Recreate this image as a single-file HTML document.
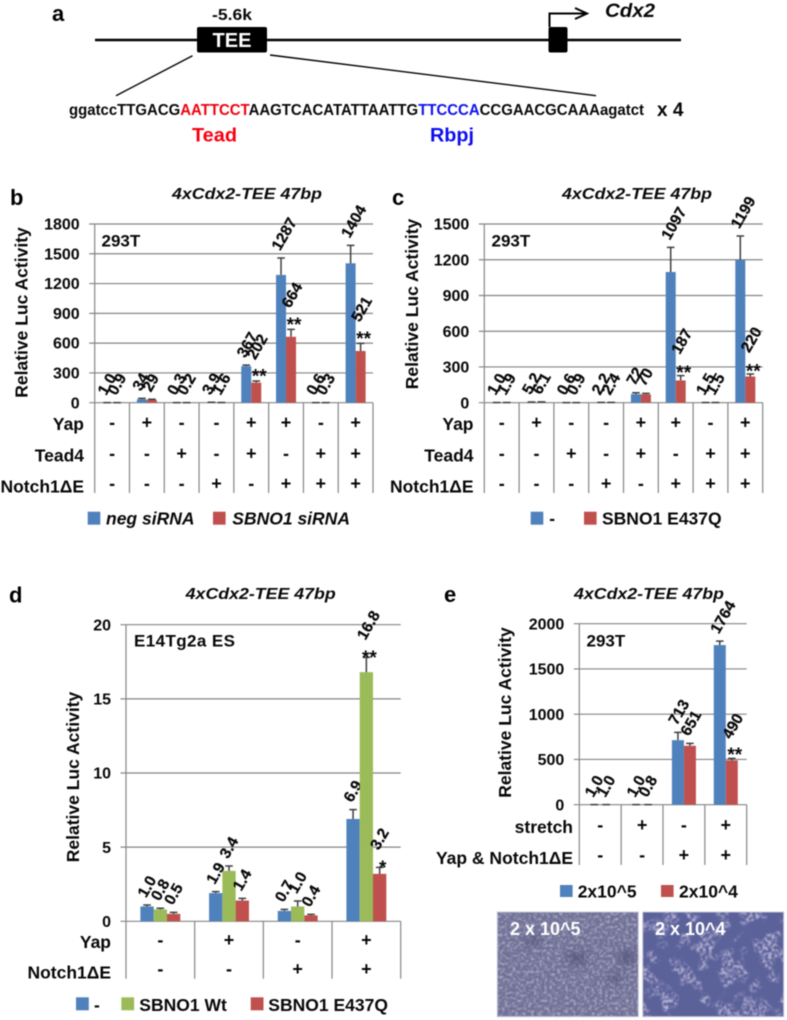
<!DOCTYPE html>
<html>
<head>
<meta charset="utf-8">
<title>Cdx2 TEE luciferase reporter figure</title>
<style>
html,body{margin:0;padding:0;background:#fff;}
body{width:787px;height:1020px;overflow:hidden;}
svg{display:block;filter:blur(0.4px);}
text{font-family:"Liberation Sans",sans-serif;font-weight:bold;fill:#080808;}
.it{font-style:italic;}
.lab{font-size:17.5px;}
.tl{font-size:16px;}
.panel{font-size:22px;fill:#000;}
</style>
</head>
<body>
<svg id="fig" width="787" height="1020" viewBox="0 0 787 1020" xmlns="http://www.w3.org/2000/svg">
<defs>
<filter id="speckDense" x="0" y="0" width="1" height="1" color-interpolation-filters="sRGB">
  <feTurbulence type="fractalNoise" baseFrequency="0.38" numOctaves="2" seed="5"/>
  <feColorMatrix type="matrix" values="0 0 0 0 0.82  0 0 0 0 0.78  0 0 0 0 0.84  3 0 0 0 -1.35"/>
  <feGaussianBlur stdDeviation="0.5"/>
</filter>
<filter id="speckPatch" x="0" y="0" width="1" height="1" color-interpolation-filters="sRGB">
  <feTurbulence type="fractalNoise" baseFrequency="0.32" numOctaves="2" seed="9" result="fine"/>
  <feColorMatrix in="fine" type="matrix" values="0 0 0 0 0.86  0 0 0 0 0.82  0 0 0 0 0.92  3.2 0 0 0 -1.3" result="speck"/>
  <feTurbulence type="fractalNoise" baseFrequency="0.05" numOctaves="2" seed="21"/>
  <feColorMatrix type="matrix" values="0 0 0 0 1  0 0 0 0 1  0 0 0 0 1  9 0 0 0 -4.3" result="mask"/>
  <feComposite in="speck" in2="mask" operator="in"/>
  <feGaussianBlur stdDeviation="0.65"/>
</filter>
<filter id="softSpot" x="-50%" y="-50%" width="200%" height="200%"><feGaussianBlur stdDeviation="4"/></filter>
</defs>

<!-- Panel a -->
<g id="panel-a">
  <text class="panel" x="52" y="21">a</text>
  <line x1="95" y1="40" x2="681" y2="40" stroke="#000" stroke-width="2.6"/>
  <rect x="197" y="27" width="70" height="25.5" rx="2" fill="#000"/>
  <text x="232" y="47" text-anchor="middle" font-size="20" style="fill:#fff">TEE</text>
  <text x="212" y="20" font-size="16" textLength="40" lengthAdjust="spacingAndGlyphs">-5.6k</text>
  <rect x="548.5" y="27" width="19" height="25.5" rx="2" fill="#000"/>
  <path d="M549.5 27V13.5H587M575 8L587 13.5L575 19" fill="none" stroke="#000" stroke-width="2"/>
  <text class="it" x="605" y="17" font-size="19" textLength="50" lengthAdjust="spacingAndGlyphs">Cdx2</text>
  <line x1="192.5" y1="55.7" x2="116" y2="95.7" stroke="#000" stroke-width="1.4"/>
  <line x1="270" y1="55" x2="596" y2="95.7" stroke="#000" stroke-width="1.4"/>
  <text x="69" y="115" font-size="15.5" textLength="575" lengthAdjust="spacingAndGlyphs">ggatccTTGACG<tspan style="fill:#f00010">AATTCCT</tspan>AAGTCACATATTAATTG<tspan style="fill:#1010f0">TTCCCA</tspan>CCGAACGCAAAagatct</text>
  <text x="657" y="116" font-size="19">x 4</text>
  <text x="192" y="141.5" font-size="19" textLength="45" lengthAdjust="spacingAndGlyphs" style="fill:#f80010">Tead</text>
  <text x="430" y="141.5" font-size="19" textLength="44" lengthAdjust="spacingAndGlyphs" style="fill:#0c0cf0">Rbpj</text>
</g>

<!-- Panel b static -->
<g id="panel-b">
  <text class="panel" x="10" y="205">b</text>
  <text class="it" x="172" y="199" font-size="16" textLength="150" lengthAdjust="spacingAndGlyphs">4xCdx2-TEE 47bp</text>
  <text x="101.5" y="246.5" font-size="17">293T</text>
  <text class="lab" transform="translate(27.5 312.5) rotate(-90)" text-anchor="middle">Relative Luc Activity</text>
  <rect x="87.7" y="511.7" width="12.6" height="13" fill="#4f81bd"/>
  <text class="it lab" x="106" y="524.5">neg siRNA</text>
  <rect x="213" y="511.7" width="12.6" height="13" fill="#c0504d"/>
  <text class="it lab" x="232.3" y="524.5">SBNO1 siRNA</text>
</g>

<!-- Panel c static -->
<g id="panel-c">
  <text class="panel" x="392" y="205">c</text>
  <text class="it" x="562" y="199" font-size="16" textLength="150" lengthAdjust="spacingAndGlyphs">4xCdx2-TEE 47bp</text>
  <text x="491.5" y="246.5" font-size="17">293T</text>
  <text class="lab" transform="translate(418 304) rotate(-90)" text-anchor="middle">Relative Luc Activity</text>
  <rect x="530.7" y="511.7" width="12.6" height="13" fill="#4f81bd"/>
  <text class="lab" x="549.3" y="524.5">-</text>
  <rect x="584" y="511.7" width="12.6" height="13" fill="#c0504d"/>
  <text class="lab" x="602" y="524.5">SBNO1 E437Q</text>
</g>

<!-- Panel d static -->
<g id="panel-d">
  <text class="panel" x="9" y="602.5">d</text>
  <text class="it" x="185.7" y="599" font-size="16" textLength="150" lengthAdjust="spacingAndGlyphs">4xCdx2-TEE 47bp</text>
  <text x="134" y="646.5" font-size="17" textLength="101">E14Tg2a ES</text>
  <text class="lab" transform="translate(79 777) rotate(-90)" text-anchor="middle">Relative Luc Activity</text>
  <rect x="76" y="997.3" width="12.8" height="13" fill="#4f81bd"/>
  <text class="lab" x="94" y="1011">-</text>
  <rect x="121.3" y="997.3" width="12.8" height="13" fill="#9bbb59"/>
  <text class="lab" x="139.3" y="1011">SBNO1 Wt</text>
  <rect x="250.7" y="997.3" width="12.8" height="13" fill="#c0504d"/>
  <text class="lab" x="268.3" y="1011">SBNO1 E437Q</text>
</g>

<!-- Panel e static -->
<g id="panel-e">
  <text class="panel" x="444" y="602">e</text>
  <text class="it" x="574" y="599" font-size="16" textLength="150" lengthAdjust="spacingAndGlyphs">4xCdx2-TEE 47bp</text>
  <text x="586.5" y="646.5" font-size="17">293T</text>
  <text class="lab" transform="translate(511 712.5) rotate(-90)" text-anchor="middle">Relative Luc Activity</text>
  <rect x="560" y="885" width="12.6" height="12" fill="#4f81bd"/>
  <text class="lab" x="577.7" y="897.5">2x10^5</text>
  <rect x="661" y="885" width="12.6" height="12" fill="#c0504d"/>
  <text class="lab" x="679" y="897.5">2x10^4</text>
</g>

<!-- Micrographs -->
<g>
  <rect x="497.3" y="912" width="141" height="104.7" fill="#6d6f96"/>
  <rect x="497.3" y="912" width="141" height="104.7" filter="url(#speckDense)" opacity="0.75"/>
  <ellipse cx="577" cy="958" rx="11" ry="7" fill="#45456e" opacity="0.5" filter="url(#softSpot)"/>
  <ellipse cx="627" cy="957" rx="9" ry="8" fill="#45456e" opacity="0.5" filter="url(#softSpot)"/>
  <ellipse cx="533" cy="940" rx="8" ry="6" fill="#45456e" opacity="0.45" filter="url(#softSpot)"/>
  <ellipse cx="615" cy="978" rx="7" ry="6" fill="#45456e" opacity="0.45" filter="url(#softSpot)"/>
  <rect x="497.3" y="912" width="141" height="104.7" fill="none" stroke="#c9c9dc" stroke-width="1"/>
  <text x="510" y="935" font-size="18" style="fill:#fff">2 x 10^5</text>
</g>
<g>
  <rect x="642.7" y="912" width="141" height="104.7" fill="#5b629a"/>
  <rect x="642.7" y="912" width="141" height="104.7" filter="url(#speckPatch)" opacity="0.8"/>
  <rect x="642.7" y="912" width="141" height="104.7" fill="none" stroke="#c9c9dc" stroke-width="1"/>
  <text x="655" y="935" font-size="18" style="fill:#fff">2 x 10^4</text>
</g>

<script>
// Panel b data
const bYTicks = [0, 300, 600, 900, 1200, 1500, 1800];
const bNegSiRNA = [1.0, 34, 0.3, 3.9, 367, 1287, 0.6, 1404];
const bNegSiRNAErr = [0.2, 10, 0.1, 1, 12, 170, 0.1, 181];
const bSbno1SiRNA = [0.9, 29, 0.2, 1.6, 202, 664, 0.3, 521];
const bSbno1SiRNAErr = [0.2, 6, 0.1, 0.5, 16, 75, 0.1, 77];
const bSbno1Stars = ['', '', '', '', '**', '**', '', '**'];
const bYap = ['-', '+', '-', '-', '+', '+', '-', '+'];
const bTead4 = ['-', '-', '+', '-', '+', '-', '+', '+'];
const bNotch = ['-', '-', '-', '+', '-', '+', '+', '+'];

// Panel c data
const cYTicks = [0, 300, 600, 900, 1200, 1500];
const cControl = [1.0, 5.2, 0.6, 2.2, 72, 1097, 1.5, 1199];
const cControlErr = [0.3, 1, 0.2, 0.5, 12, 207, 0.3, 200];
const cE437Q = [1.9, 6.1, 0.9, 2.4, 70, 187, 1.5, 220];
const cE437QErr = [0.3, 1, 0.2, 0.5, 8, 40, 0.3, 21];
const cE437QStars = ['', '', '', '', '', '**', '', '**'];
const cYap = ['-', '+', '-', '-', '+', '+', '-', '+'];
const cTead4 = ['-', '-', '+', '-', '+', '-', '+', '+'];
const cNotch = ['-', '-', '-', '+', '-', '+', '+', '+'];

// Panel d data
const dYTicks = [0, 5, 10, 15, 20];
const dControl = [1.0, 1.9, 0.7, 6.9];
const dControlErr = [0.1, 0.1, 0.1, 0.63];
const dWt = [0.8, 3.4, 1.0, 16.8];
const dWtErr = [0.08, 0.33, 0.37, 1.0];
const dWtStars = ['', '', '', '**'];
const dE437Q = [0.5, 1.4, 0.4, 3.2];
const dE437QErr = [0.1, 0.15, 0.07, 0.44];
const dE437QStars = ['', '', '', '*'];
const dYap = ['-', '+', '-', '+'];
const dNotch = ['-', '-', '+', '+'];

// Panel e data
const eYTicks = [0, 500, 1000, 1500, 2000];
const eHigh = [1.0, 1.0, 713, 1764];
const eHighErr = [0, 0, 86, 44];
const eLow = [1.0, 0.8, 651, 490];
const eLowErr = [0, 0, 27, 22];
const eLowStars = ['', '', '', '**'];
const eStretch = ['-', '+', '-', '+'];
const eYapNotch = ['-', '-', '+', '+'];

const SVG_NS = 'http://www.w3.org/2000/svg';
function mk(tag, attrs, parent, txt) {
  const el = document.createElementNS(SVG_NS, tag);
  for (const k in attrs) el.setAttribute(k, attrs[k]);
  if (txt !== undefined) el.textContent = txt;
  parent.appendChild(el);
  return el;
}
const GRID = '#858585';

function drawChart(parentId, o) {
  const parent = document.getElementById(parentId);
  const max = o.ticks[o.ticks.length - 1];
  const yOf = v => o.bottom - (v / max) * (o.bottom - o.top);
  const n = o.series[0].values.length;
  const groupW = (o.right - o.left) / n;
  const xOf = i => o.left + (i + 0.5) * groupW;

  o.ticks.forEach(t => {
    const y = yOf(t);
    const grid = mk('line', {x1: o.left - 5.5, x2: o.right, y1: y, y2: y, stroke: GRID, 'stroke-width': 1.2}, parent);
    
    
    const lbl = mk('text', {x: o.left - 15, y: y + 5.6, 'text-anchor': 'end', class: 'tl'}, parent, String(t));
    
    
  });

  for (let i = 0; i <= n; i++) {
    const x = o.left + i * groupW;
    const sep = mk('line', {x1: x, x2: x, y1: i === 0 ? o.top : o.bottom, y2: o.sepBottom, stroke: GRID, 'stroke-width': 1.2}, parent);
    
    
  }

  o.series.forEach((s, j) => {
    s.values.forEach((v, i) => {
      const cx = xOf(i) + (j - o.series.length / 2 + 0.5) * o.barW;
      const top = yOf(v);
      const bar = mk('rect', {x: cx - o.barW / 2, y: top, width: o.barW, height: o.bottom - top, fill: s.color}, parent);
      
      

      const errTop = yOf(v + s.errors[i]);
      const err = mk('path', {d: `M${cx} ${top}V${errTop}M${cx - 3.8} ${errTop}H${cx + 3.8}`, fill: 'none', stroke: '#3f3f3f', 'stroke-width': 1.5}, parent);
      
      

      const star = s.stars ? s.stars[i] : '';
      if (star) {
        const st = mk('text', {x: cx + 3, y: errTop - o.starRaise + 10.5, 'text-anchor': 'middle', 'font-size': 19}, parent, star);
        
        
      }
      const ax = cx - 1;
      const ay = errTop - 6.5 - (star ? o.starGap : 0);
      const text = o.format(v);
      const val = mk('text', {x: ax, y: ay, 'font-size': 15.5, stroke: '#080808', 'stroke-width': 0.25, transform: `rotate(-60 ${ax} ${ay})`}, parent, text);
      
      
    });
  });

  o.rows.forEach(r => {
    const rl = mk('text', {x: o.rowRight, y: r.labelY, 'text-anchor': 'end', class: 'lab'}, parent, r.label);
    
    
    r.states.forEach((st, i) => {
      const m = mk('text', {x: xOf(i), y: r.markY, 'text-anchor': 'middle', 'font-size': 18}, parent, st);
      
      
    });
  });
}

const fmtMixed = v => (v < 10 ? v.toFixed(1) : v.toFixed(0));
const fmtOne = v => v.toFixed(1);

drawChart('panel-b', {
  left: 94.7, right: 373, top: 224, bottom: 402.7, sepBottom: 493, barW: 10, rowRight: 84, starGap: 14, starRaise: 9,
  ticks: bYTicks, format: fmtMixed,
  series: [
    {values: bNegSiRNA, errors: bNegSiRNAErr, color: '#4f81bd'},
    {values: bSbno1SiRNA, errors: bSbno1SiRNAErr, stars: bSbno1Stars, color: '#c0504d'}
  ],
  rows: [
    {label: 'Yap', states: bYap, labelY: 430, markY: 428.5},
    {label: 'Tead4', states: bTead4, labelY: 461.5, markY: 459.5},
    {label: 'Notch1\u0394E', states: bNotch, labelY: 492.5, markY: 489.5}
  ]
});

drawChart('panel-c', {
  left: 484.3, right: 762.7, top: 224, bottom: 402.7, sepBottom: 493, barW: 10, rowRight: 473.5, starGap: 14, starRaise: 7,
  ticks: cYTicks, format: fmtMixed,
  series: [
    {values: cControl, errors: cControlErr, color: '#4f81bd'},
    {values: cE437Q, errors: cE437QErr, stars: cE437QStars, color: '#c0504d'}
  ],
  rows: [
    {label: 'Yap', states: cYap, labelY: 430, markY: 428.5},
    {label: 'Tead4', states: cTead4, labelY: 461.5, markY: 459.5},
    {label: 'Notch1\u0394E', states: cNotch, labelY: 492.5, markY: 489.5}
  ]
});

drawChart('panel-d', {
  left: 126, right: 400.7, top: 624.7, bottom: 921.3, sepBottom: 978.7, barW: 13.3, rowRight: 111, starGap: 10, starRaise: 4,
  ticks: dYTicks, format: fmtOne,
  series: [
    {values: dControl, errors: dControlErr, color: '#4f81bd'},
    {values: dWt, errors: dWtErr, stars: dWtStars, color: '#9bbb59'},
    {values: dE437Q, errors: dE437QErr, stars: dE437QStars, color: '#c0504d'}
  ],
  rows: [
    {label: 'Yap', states: dYap, labelY: 948, markY: 946},
    {label: 'Notch1\u0394E', states: dNotch, labelY: 978.3, markY: 975}
  ]
});

drawChart('panel-e', {
  left: 579.3, right: 746.7, top: 623.7, bottom: 804.7, sepBottom: 865, barW: 12, rowRight: 573, starGap: 12, starRaise: 8,
  ticks: eYTicks, format: fmtMixed,
  series: [
    {values: eHigh, errors: eHighErr, color: '#4f81bd'},
    {values: eLow, errors: eLowErr, stars: eLowStars, color: '#c0504d'}
  ],
  rows: [
    {label: 'stretch', states: eStretch, labelY: 833, markY: 831},
    {label: 'Yap & Notch1\u0394E', states: eYapNotch, labelY: 864, markY: 861}
  ]
});
</script>
</svg>
</body>
</html>
